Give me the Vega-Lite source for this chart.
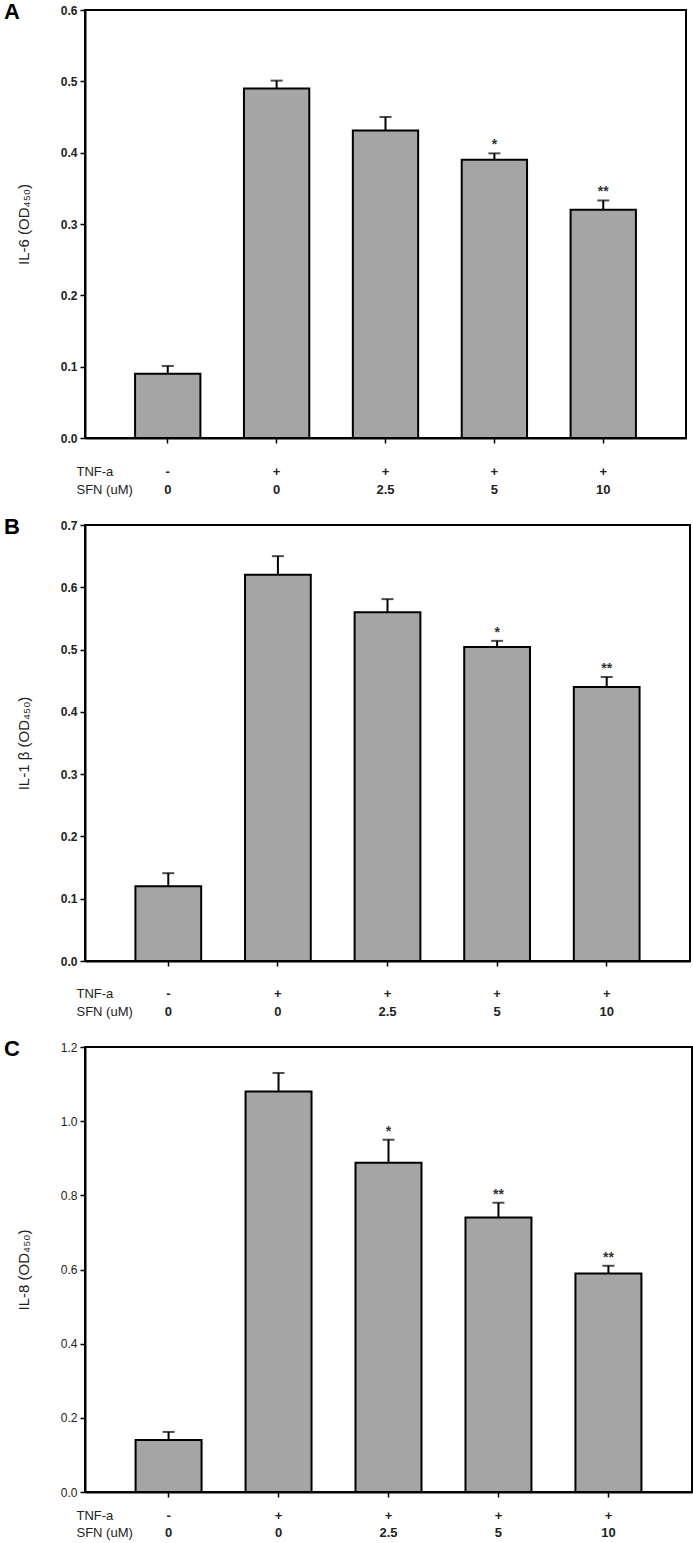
{
  "$schema": "https://vega.github.io/schema/vega-lite/v6.json",
  "padding": {"left": 3, "top": 0, "right": 0, "bottom": 0},
  "background": "white",
  "spacing": 18,
  "config": {
    "font": "Liberation Sans",
    "view": {"stroke": "black", "strokeWidth": 2},
    "title": {"fontSize": 22, "fontWeight": "bold", "color": "black", "anchor": "start", "frame": "group", "offset": 0, "baseline": "alphabetic", "dx": -81, "dy": 24},
    "axisY": {"domainColor": "black", "domainWidth": 2, "tickColor": "black", "tickWidth": 1.5, "tickSize": 5, "labelFontSize": 12, "labelFontWeight": "bold", "labelColor": "#222", "labelPadding": 3, "grid": false, "titleFontSize": 15, "titleFontWeight": "normal", "titleColor": "#222", "titlePadding": 29},
    "axisX": {"domainColor": "black", "domainWidth": 2, "tickColor": "black", "tickWidth": 1.5, "tickSize": 5, "labelAngle": 0, "labelFontSize": 13, "labelFontWeight": "bold", "labelColor": "#222", "labelLineHeight": 18, "grid": false, "titleFontSize": 13, "titleFontWeight": "normal", "titleColor": "#222", "titleAlign": "left", "titleBaseline": "top", "titleLineHeight": 18, "titleX": -9}
  },
  "datasets": {
    "a": [
      {"grp": "-|0", "v": 0.09, "hi": 0.101, "sig": ""},
      {"grp": "+|0", "v": 0.49, "hi": 0.501, "sig": ""},
      {"grp": "+|2.5", "v": 0.431, "hi": 0.45, "sig": ""},
      {"grp": "+|5", "v": 0.39, "hi": 0.399, "sig": "*"},
      {"grp": "+|10", "v": 0.32, "hi": 0.333, "sig": "**"}
    ],
    "b": [
      {"grp": "-|0", "v": 0.12, "hi": 0.141, "sig": ""},
      {"grp": "+|0", "v": 0.62, "hi": 0.65, "sig": ""},
      {"grp": "+|2.5", "v": 0.56, "hi": 0.581, "sig": ""},
      {"grp": "+|5", "v": 0.504, "hi": 0.514, "sig": "*"},
      {"grp": "+|10", "v": 0.44, "hi": 0.456, "sig": "**"}
    ],
    "c": [
      {"grp": "-|0", "v": 0.14, "hi": 0.162, "sig": ""},
      {"grp": "+|0", "v": 1.08, "hi": 1.13, "sig": ""},
      {"grp": "+|2.5", "v": 0.888, "hi": 0.95, "sig": "*"},
      {"grp": "+|5", "v": 0.74, "hi": 0.78, "sig": "**"},
      {"grp": "+|10", "v": 0.589, "hi": 0.61, "sig": "**"}
    ]
  },
  "vconcat": [
    {
      "title": {"text": "A"},
      "width": 601,
      "height": 428,
      "data": {"name": "a"},
      "encoding": {
        "x": {"field": "grp", "type": "nominal", "sort": null, "scale": {"paddingInner": 0.4, "paddingOuter": 0.46},
          "axis": {"labelExpr": "split(datum.value, '|')", "labelPadding": 22, "title": ["TNF-a", "SFN (uM)"], "titleY": 27}}
      },
      "layer": [
        {"mark": {"type": "bar", "fill": "#a5a5a5", "stroke": "black", "strokeWidth": 2},
         "encoding": {"y": {"field": "v", "type": "quantitative", "scale": {"domain": [0, 0.6], "nice": false},
           "axis": {"values": [0, 0.1, 0.2, 0.3, 0.4, 0.5, 0.6], "format": ".1f", "title": "IL-6 (OD₄₅₀)"}}}},
        {"mark": {"type": "rule", "color": "black", "strokeWidth": 2},
         "encoding": {"y": {"field": "v", "type": "quantitative"}, "y2": {"field": "hi"}}},
        {"mark": {"type": "tick", "color": "black", "thickness": 2, "size": 12},
         "encoding": {"y": {"field": "hi", "type": "quantitative"}}},
        {"mark": {"type": "text", "fontSize": 14, "fontWeight": "bold", "color": "#333", "baseline": "alphabetic", "dy": -4},
         "encoding": {"y": {"field": "hi", "type": "quantitative"}, "text": {"field": "sig"}}}
      ]
    },
    {
      "title": {"text": "B"},
      "width": 605,
      "height": 436,
      "data": {"name": "b"},
      "encoding": {
        "x": {"field": "grp", "type": "nominal", "sort": null, "scale": {"paddingInner": 0.4, "paddingOuter": 0.46},
          "axis": {"labelExpr": "split(datum.value, '|')", "labelPadding": 21, "title": ["TNF-a", "SFN (uM)"], "titleY": 26}}
      },
      "layer": [
        {"mark": {"type": "bar", "fill": "#a5a5a5", "stroke": "black", "strokeWidth": 2},
         "encoding": {"y": {"field": "v", "type": "quantitative", "scale": {"domain": [0, 0.7], "nice": false},
           "axis": {"values": [0, 0.1, 0.2, 0.3, 0.4, 0.5, 0.6, 0.7], "format": ".1f", "title": "IL-1 β (OD₄₅₀)"}}}},
        {"mark": {"type": "rule", "color": "black", "strokeWidth": 2},
         "encoding": {"y": {"field": "v", "type": "quantitative"}, "y2": {"field": "hi"}}},
        {"mark": {"type": "tick", "color": "black", "thickness": 2, "size": 12},
         "encoding": {"y": {"field": "hi", "type": "quantitative"}}},
        {"mark": {"type": "text", "fontSize": 14, "fontWeight": "bold", "color": "#333", "baseline": "alphabetic", "dy": -4},
         "encoding": {"y": {"field": "hi", "type": "quantitative"}, "text": {"field": "sig"}}}
      ]
    },
    {
      "title": {"text": "C"},
      "width": 607,
      "height": 445,
      "data": {"name": "c"},
      "encoding": {
        "x": {"field": "grp", "type": "nominal", "sort": null, "scale": {"paddingInner": 0.4, "paddingOuter": 0.46},
          "axis": {"labelExpr": "split(datum.value, '|')", "labelPadding": 12, "labelLineHeight": 17, "title": ["TNF-a", "SFN (uM)"], "titleY": 17, "titleLineHeight": 17}}
      },
      "layer": [
        {"mark": {"type": "bar", "fill": "#a5a5a5", "stroke": "black", "strokeWidth": 2},
         "encoding": {"y": {"field": "v", "type": "quantitative", "scale": {"domain": [0, 1.2], "nice": false},
           "axis": {"values": [0, 0.2, 0.4, 0.6, 0.8, 1.0, 1.2], "format": ".1f", "labelFontWeight": "normal", "title": "IL-8 (OD₄₅₀)"}}}},
        {"mark": {"type": "rule", "color": "black", "strokeWidth": 2},
         "encoding": {"y": {"field": "v", "type": "quantitative"}, "y2": {"field": "hi"}}},
        {"mark": {"type": "tick", "color": "black", "thickness": 2, "size": 12},
         "encoding": {"y": {"field": "hi", "type": "quantitative"}}},
        {"mark": {"type": "text", "fontSize": 14, "fontWeight": "bold", "color": "#333", "baseline": "alphabetic", "dy": -4},
         "encoding": {"y": {"field": "hi", "type": "quantitative"}, "text": {"field": "sig"}}}
      ]
    }
  ]
}
